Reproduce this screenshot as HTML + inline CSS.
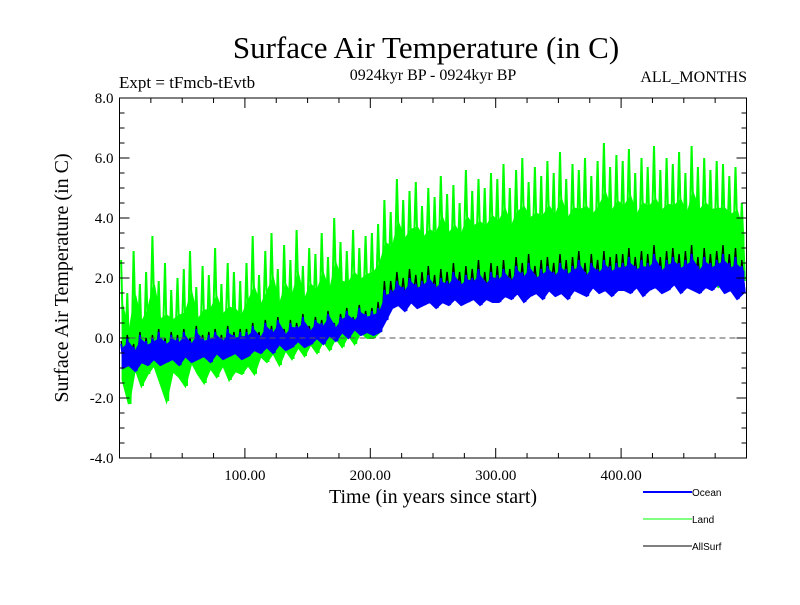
<!DOCTYPE html>
<html><head><meta charset="utf-8">
<style>
body{margin:0;background:#fff;}
svg text{font-family:"Liberation Serif",serif;}
svg text.sans{font-family:"Liberation Sans",sans-serif;}
</style></head>
<body>
<svg id="chart" width="800" height="600" viewBox="0 0 800 600" xmlns="http://www.w3.org/2000/svg">
<text x="426" y="58" font-size="31" text-anchor="middle">Surface Air Temperature (in C)</text>
<text x="119" y="88" font-size="17">Expt = tFmcb-tEvtb</text>
<text x="433" y="80" font-size="16" text-anchor="middle">0924kyr BP - 0924kyr BP</text>
<text x="747" y="82" font-size="16" text-anchor="end">ALL_MONTHS</text>
<text transform="translate(68,278) rotate(-90)" font-size="20" text-anchor="middle">Surface Air Temperature (in C)</text>
<text x="433" y="503" font-size="20" text-anchor="middle">Time (in years since start)</text>
<g id="plot"></g>
<g id="axes"></g>
<g>
 <g><line x1="643" y1="492" x2="692" y2="492" stroke="#0000ff" stroke-width="2"/><text class="sans" x="692" y="496" font-size="10">Ocean</text></g>
 <g><line x1="643" y1="519" x2="692" y2="519" stroke="#00ff00" stroke-width="1"/><text class="sans" x="692" y="523" font-size="10">Land</text></g>
 <g><line x1="643" y1="546" x2="692" y2="546" stroke="#000" stroke-width="1"/><text class="sans" x="692" y="550" font-size="10">AllSurf</text></g>
</g>
</svg>
<script>
const landHi=[2.6,1.5,2.9,1.8,2.2,3.4,1.9,2.5,1.6,2.0,2.3,2.9,1.7,2.4,2.1,3.0,1.8,2.5,2.2,1.9,
2.5,3.4,2.1,2.9,3.5,2.3,3.1,2.6,3.6,2.4,3.0,2.8,3.5,2.7,4.0,3.2,2.9,3.6,3.0,3.4,
3.5,3.8,4.6,4.2,5.3,4.6,4.9,5.2,4.4,5.0,4.7,5.4,4.8,5.1,4.5,5.6,4.9,5.3,5.0,5.5,
5.3,5.8,5.0,5.6,6.0,5.2,5.7,5.4,5.9,5.5,6.2,5.3,5.8,5.6,6.0,5.4,5.9,6.5,5.7,6.1,
5.9,6.3,5.5,6.0,5.7,6.4,5.6,6.0,5.8,6.2,5.5,6.4,5.7,6.0,5.6,5.9,5.8,5.4,5.7,4.5];
const landLo=[-1.4,-2.2,-1.0,-1.6,-1.2,-0.9,-1.5,-2.1,-1.1,-1.3,-1.6,-0.8,-1.2,-1.5,-1.0,-1.3,-0.9,-1.4,-1.1,-1.2,
-0.9,-1.2,-0.6,-0.8,-0.5,-0.9,-0.4,-0.7,-0.3,-0.6,-0.2,-0.5,-0.1,-0.4,0.0,-0.3,0.1,-0.2,0.2,0.0,
0.0,0.2,0.8,1.0,1.4,1.1,1.5,1.2,1.6,1.3,1.4,1.7,1.3,1.5,1.6,1.4,1.8,1.5,1.6,1.7,
1.5,1.8,1.6,1.9,1.7,2.0,1.6,1.8,1.9,1.7,2.0,1.8,1.9,2.1,1.7,2.0,1.9,2.1,1.8,2.0,
1.9,2.1,1.8,2.0,2.2,1.7,2.0,1.9,2.1,2.0,1.8,2.2,1.9,2.0,2.1,1.7,1.9,2.0,1.8,1.9];
const oceanHi=[-0.2,0.0,-0.3,0.1,-0.1,0.0,0.2,-0.1,0.1,0.0,0.2,-0.1,0.3,0.0,0.1,0.2,0.0,0.3,0.1,0.2,
0.2,0.4,0.1,0.5,0.3,0.6,0.2,0.5,0.4,0.7,0.3,0.6,0.5,0.8,0.4,0.7,0.9,0.6,1.0,0.8,
0.9,1.0,1.6,1.6,1.9,1.7,2.0,1.8,1.9,2.1,1.8,2.0,1.9,2.2,1.9,2.1,2.0,2.3,1.9,2.2,
2.1,2.3,2.0,2.4,2.2,2.5,2.1,2.3,2.4,2.2,2.5,2.3,2.4,2.6,2.2,2.5,2.3,2.6,2.4,2.5,
2.5,2.7,2.4,2.6,2.5,2.8,2.4,2.6,2.7,2.5,2.6,2.8,2.4,2.7,2.5,2.6,2.8,2.5,2.7,2.4];
const oceanLo=[-1.0,-0.9,-1.1,-0.8,-0.9,-0.7,-0.9,-0.8,-0.7,-0.9,-0.6,-0.8,-0.7,-0.6,-0.8,-0.5,-0.7,-0.6,-0.5,-0.7,
-0.6,-0.4,-0.5,-0.3,-0.5,-0.2,-0.4,-0.3,-0.1,-0.3,-0.2,0.0,-0.2,0.1,-0.1,0.2,0.0,0.3,0.1,0.2,
0.1,0.2,0.6,1.0,1.1,0.9,1.2,1.0,1.1,1.2,1.0,1.2,1.1,1.3,1.1,1.2,1.3,1.1,1.3,1.2,
1.2,1.4,1.3,1.5,1.2,1.4,1.5,1.3,1.6,1.4,1.5,1.3,1.6,1.5,1.4,1.7,1.5,1.6,1.4,1.6,
1.6,1.5,1.7,1.4,1.6,1.7,1.5,1.6,1.8,1.5,1.7,1.6,1.5,1.7,1.6,1.8,1.5,1.6,1.3,1.5];
const allHi=[-0.1,0.1,-0.2,0.2,0.0,0.1,0.3,0.0,0.2,0.1,0.3,0.0,0.4,0.1,0.2,0.3,0.1,0.4,0.2,0.3,
0.3,0.5,0.2,0.6,0.4,0.7,0.3,0.6,0.5,0.8,0.4,0.7,0.6,0.9,0.5,0.8,1.0,0.7,1.1,0.9,
1.0,1.2,1.9,1.9,2.2,2.0,2.3,2.1,2.2,2.4,2.1,2.3,2.2,2.5,2.2,2.4,2.3,2.6,2.2,2.5,
2.4,2.6,2.3,2.7,2.5,2.8,2.4,2.6,2.7,2.5,2.8,2.6,2.7,2.9,2.5,2.8,2.6,2.9,2.7,2.8,
2.8,3.0,2.7,2.9,2.8,3.1,2.7,2.9,3.0,2.8,2.9,3.1,2.7,3.0,2.8,2.9,3.1,2.8,3.0,2.6];
const yTicks=[-4,-2,0,2,4,6,8];
const yTickLabels=["-4.0","-2.0","0.0","2.0","4.0","6.0","8.0"];
const xTicks=[100,200,300,400];
const xTickLabels=["100.00","200.00","300.00","400.00"];

const X0=119.5,X1=746.5,Y0=98,Y1=458,XMIN=0,XMAX=500,YMIN=-4,YMAX=8;
function sx(v){return X0+(v-XMIN)/(XMAX-XMIN)*(X1-X0);}
function sy(v){return Y1-(v-YMIN)/(YMAX-YMIN)*(Y1-Y0);}
const NS="http://www.w3.org/2000/svg";
const plot=document.getElementById('plot'),axes=document.getElementById('axes');
function el(tag,attrs,parent){const e=document.createElementNS(NS,tag);for(const k in attrs)e.setAttribute(k,attrs[k]);parent.appendChild(e);return e;}
function seriesPts(hi,lo){const pts=[];const n=hi.length;const step=(XMAX-XMIN)/n;
 for(let i=0;i<n;i++){const t=XMIN+i*step;
  pts.push(sx(t+step*0.25).toFixed(1)+','+sy(hi[i]).toFixed(1));
  pts.push(sx(t+step*0.75).toFixed(1)+','+sy(lo[i]).toFixed(1));}
 return pts.join(' ');}
function bandPts(hi,lo,frac){const n=hi.length;const step=(XMAX-XMIN)/n;const top=[],bot=[];
 for(let i=0;i<n;i++){const t=XMIN+(i+0.5)*step;
  top.push(sx(t).toFixed(1)+','+sy(lo[i]+(hi[i]-lo[i])*frac).toFixed(1));
  bot.push(sx(t).toFixed(1)+','+sy(lo[i]).toFixed(1));}
 return top.concat(bot.reverse()).join(' ');}
const landBand=el('polygon',{points:bandPts(landHi,landLo,0.62),fill:'#00ff00',stroke:'#00ff00','stroke-width':2},plot);


const land=el('polyline',{points:seriesPts(landHi,landLo),fill:'none',stroke:'#00ff00','stroke-width':2},plot);


const all=el('polyline',{points:seriesPts(allHi,oceanLo),fill:'none',stroke:'#000','stroke-width':1.4},plot);


const oceanBand=el('polygon',{points:bandPts(oceanHi,oceanLo,0.8),fill:'#0000ff',stroke:'#0000ff','stroke-width':2},plot);


const ocean=el('polyline',{points:seriesPts(oceanHi,oceanLo),fill:'none',stroke:'#0000ff','stroke-width':1.8},plot);


const zl=el('line',{x1:X0,x2:X1,y1:sy(0),y2:sy(0),stroke:'#555','stroke-dasharray':'6,4','stroke-width':1},plot);


const frame=el('rect',{x:X0,y:Y0,width:X1-X0,height:Y1-Y0,fill:'none',stroke:'#000','stroke-width':1},axes);


for(let v=YMIN;v<=YMAX+0.001;v+=0.5){const major=Math.abs(v-Math.round(v/2)*2)<0.001;const len=major?10:5;
 el('line',{x1:X0,x2:X0+len,y1:sy(v),y2:sy(v),stroke:'#000'},axes);
 el('line',{x1:X1,x2:X1-len,y1:sy(v),y2:sy(v),stroke:'#000'},axes);}
for(let v=25;v<XMAX;v+=25){const major=v%100===0;const len=major?10:5;
 el('line',{x1:sx(v),x2:sx(v),y1:Y1,y2:Y1-len,stroke:'#000'},axes);
 el('line',{x1:sx(v),x2:sx(v),y1:Y0,y2:Y0+len,stroke:'#000'},axes);}
yTicks.forEach((v,i)=>{const t=el('text',{x:X0-6,y:sy(v)+5,'font-size':15,'text-anchor':'end'},axes);t.textContent=yTickLabels[i];
 
 });
xTicks.forEach((v,i)=>{const t=el('text',{x:sx(v),y:Y1+22,'font-size':15,'text-anchor':'middle'},axes);t.textContent=xTickLabels[i];
 
 });
</script>
</body></html>
